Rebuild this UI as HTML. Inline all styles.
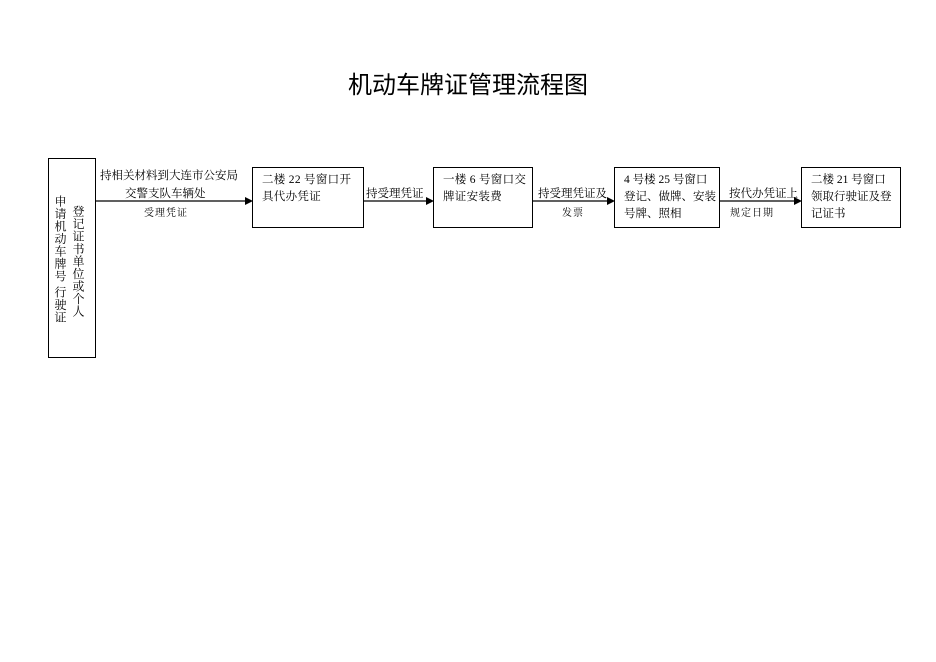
<!DOCTYPE html><html><head><meta charset="utf-8"><style>
body{margin:0;width:936px;height:662px;background:#fff;position:relative;font-family:"Liberation Serif","Noto Serif CJK SC",serif;color:#000}
.a{position:absolute;white-space:nowrap}
.b{position:absolute;border:1px solid #000;box-sizing:border-box;font-size:11.5px;line-height:17px;padding:4px 0 0 9px;letter-spacing:0.3px;white-space:nowrap}
.t{font-size:11.5px}
.s{font-size:10px;letter-spacing:1px}
.v{position:absolute;writing-mode:vertical-rl;font-size:12px;line-height:12px;letter-spacing:0.5px}
</style></head><body>
<div class="a" style="left:0;width:936px;top:65px;text-align:center;font-family:'Liberation Sans','Noto Sans CJK SC',sans-serif;font-size:24px">机动车牌证管理流程图</div>
<div class="b" style="left:48px;top:158px;width:48px;height:200px;padding:0"></div>
<div class="v" style="left:54px;top:195px">申请机动车牌号&nbsp;行驶证</div>
<div class="v" style="left:72px;top:205px">登记证书单位或个人</div>
<div class="b" style="left:252px;top:167px;width:112px;height:61px">二楼 22 号窗口开<br>具代办凭证</div>
<div class="b" style="left:433px;top:167px;width:100px;height:61px">一楼 6 号窗口交<br>牌证安装费</div>
<div class="b" style="left:614px;top:167px;width:106px;height:61px;letter-spacing:0">4 号楼 25 号窗口<br>登记、做牌、安装<br>号牌、照相</div>
<div class="b" style="left:801px;top:167px;width:100px;height:61px;letter-spacing:0">二楼 21 号窗口<br>领取行驶证及登<br>记证书</div>
<svg class="a" style="left:0;top:0" width="936" height="662">
<g stroke="#000" stroke-width="1.2">
<line x1="96" y1="201" x2="247" y2="201"/><line x1="364" y1="201" x2="428" y2="201"/>
<line x1="533" y1="201" x2="609" y2="201"/><line x1="720" y1="201" x2="796" y2="201"/></g>
<g fill="#000"><polygon points="253,201 245,197 245,205"/><polygon points="434,201 426,197 426,205"/>
<polygon points="615,201 607,197 607,205"/><polygon points="802,201 794,197 794,205"/></g>
</svg>
<div class="a t" style="left:100px;top:167px">持相关材料到大连市公安局</div>
<div class="a t" style="left:125px;top:185px">交警支队车辆处</div>
<div class="a s" style="left:144px;top:204px">受理凭证</div>
<div class="a t" style="left:366px;top:185px">持受理凭证</div>
<div class="a t" style="left:538px;top:185px">持受理凭证及</div>
<div class="a s" style="left:562px;top:204px">发票</div>
<div class="a t" style="left:729px;top:185px">按代办凭证上</div>
<div class="a s" style="left:730px;top:204px">规定日期</div>
</body></html>
